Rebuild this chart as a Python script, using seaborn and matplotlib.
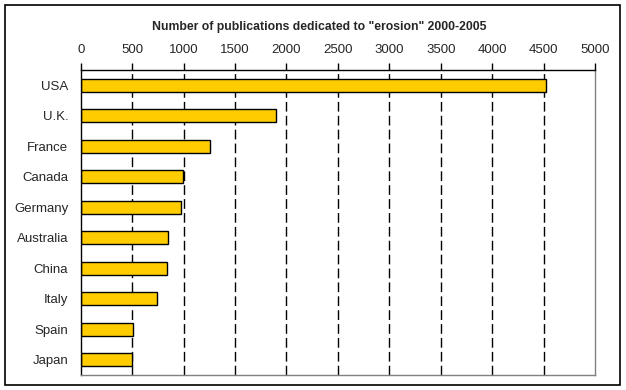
import numpy as np
import pandas as pd
import matplotlib
matplotlib.use("Agg")
import matplotlib.pyplot as plt
from matplotlib.patches import Rectangle
import seaborn as sns

countries = ['USA', 'U.K.', 'France', 'Canada', 'Germany', 'Australia', 'China', 'Italy', 'Spain', 'Japan']
publications = [4520, 1900, 1260, 998, 978, 852, 842, 746, 512, 498]
x_ticks = list(range(0, 5001, 500))

df = pd.DataFrame({'country': countries, 'publications': publications})

sns.set_style("white")
plt.rcParams['font.family'] = ['Liberation Sans', 'DejaVu Sans']

fig = plt.figure(figsize=(6.26, 3.9), dpi=100)
ax = fig.add_axes([0.129, 0.0385, 0.8215, 0.782])

sns.barplot(data=df, x='publications', y='country', orient='h', color='#FFCC00',
            saturation=1, edgecolor='black', linewidth=1, width=0.43, ax=ax)

ax.set_xlim(0, 5000)
ax.set_ylim(9.5, -0.5)
ax.xaxis.tick_top()
ax.set_xticks(x_ticks)
ax.set_xticklabels([str(t) for t in x_ticks], fontsize=9.5)
ax.tick_params(axis='x', direction='out', length=5, width=1, color='black', pad=5)
ax.tick_params(axis='y', which='major', length=0, pad=9, labelsize=9.5)
ax.set_yticks(np.arange(-0.5, len(countries), 1), minor=True)
ax.tick_params(axis='y', which='minor', direction='out', length=4, width=1, color='black')
ax.set_xlabel('')
ax.set_ylabel('')

ax.set_axisbelow(True)
ax.grid(axis='x', color='black', linewidth=1, linestyle=(0, (7, 3)))
gl = ax.get_xgridlines()
gl[0].set_visible(False)
gl[-1].set_visible(False)

for side in ['top', 'left']:
    ax.spines[side].set_color('black')
    ax.spines[side].set_linewidth(1)
for side in ['right', 'bottom']:
    ax.spines[side].set_color('#808080')
    ax.spines[side].set_linewidth(1)

fig.text(0.51, 0.93, 'Number of publications dedicated to "erosion" 2000-2005',
         ha='center', va='center', fontsize=8.8, fontweight='bold')

fig.patches.append(Rectangle((5 / 626, 1 - 385 / 390), 615 / 626, 380 / 390,
                             transform=fig.transFigure, fill=False,
                             edgecolor='black', linewidth=1.2))

fig.savefig('out.png', dpi=100)
